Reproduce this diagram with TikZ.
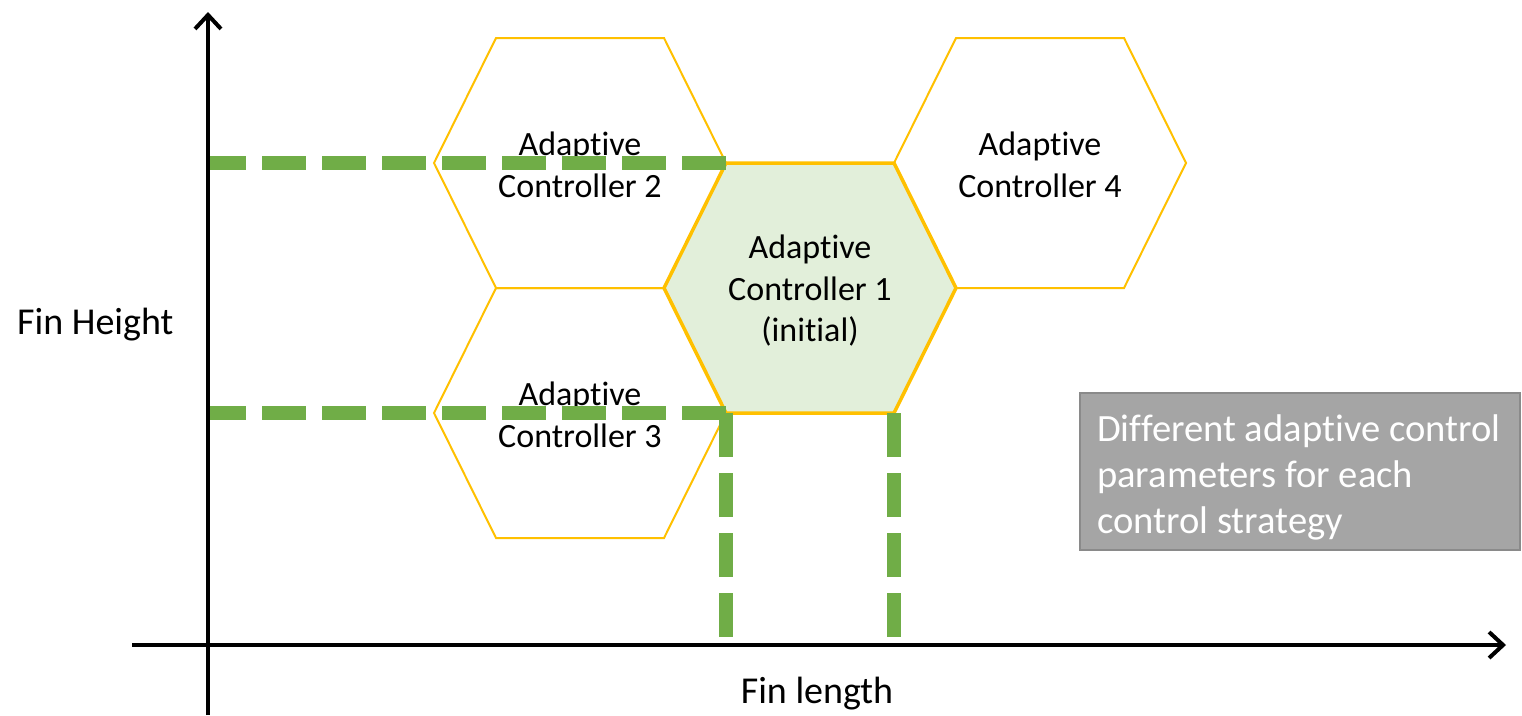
\documentclass[tikz,border=0pt]{standalone}
\usepackage{fontspec}
\setmainfont[Ligatures={NoCommon}]{Carlito}
\usetikzlibrary{arrows.meta}
\definecolor{hexline}{HTML}{FFC000}
\definecolor{guide}{HTML}{70AD47}
\definecolor{activefill}{HTML}{E2EFDA}
\definecolor{notefill}{HTML}{A5A5A5}
\definecolor{noteline}{HTML}{8A8A8A}

% hexagon around a centre: half width 146, half top edge 84, half height 125
\newcommand\hexcellpath[2]{(#1-146,#2) -- (#1-84,#2-125) -- (#1+84,#2-125) -- (#1+146,#2) -- (#1+84,#2+125) -- (#1-84,#2+125) -- cycle}

\begin{document}
\begin{tikzpicture}[x=1pt,y=-1pt,
  hexcell/.style={draw=hexline, line width=2pt, line join=miter},
  activecell/.style={draw=hexline, fill=activefill, line width=3.5pt, line join=miter},
  hexlabel/.style={align=center, font=\fontsize{34}{41.5}\selectfont, inner sep=0pt},
  guideline/.style={draw=guide, line width=14pt, dash pattern=on 44pt off 16pt},
  axisline/.style={draw=black, line width=4pt, -{Straight Barb[length=14pt,width=26pt]}},
  axislabel/.style={font=\fontsize{38}{46}\selectfont, inner sep=0pt},
  notebox/.style={fill=notefill, draw=noteline, line width=2.5pt},
  notetext/.style={align=left, text=white, font=\fontsize{38.6}{46}\selectfont, inner sep=0pt}]

\useasboundingbox (0,0) rectangle (1522,715);

% controller cells
\draw[activecell] \hexcellpath{810}{288};
\draw[hexcell] \hexcellpath{580}{163};
\draw[hexcell] \hexcellpath{580}{413};
\draw[hexcell] \hexcellpath{1040}{163};

\node[hexlabel] (c1) at (810,291) {Adaptive\\Controller 1\\(initial)};
\node[hexlabel] (c2) at (580,165) {Adaptive\\Controller 2};
\node[hexlabel] (c3) at (580,415) {Adaptive\\Controller 3};
\node[hexlabel] (c4) at (1040,165) {Adaptive\\Controller 4};

% corners of the initial cell and their projections on the axes
\coordinate (tl) at (726,163);
\coordinate (bl) at (726,413);
\coordinate (br) at (894,413);
\coordinate (yup) at (206,163);
\coordinate (ylo) at (210,413);
\coordinate (xl) at (726,637);
\coordinate (xr) at (894,637);

\draw[guideline, dash phase=4pt] (yup) -- (tl);
\draw[guideline, dash phase=8pt] (ylo) -- (bl);
\draw[guideline] (bl) -- (xl);
\draw[guideline] (br) -- (xr);

% axes
\coordinate (ybot) at (208,715);
\coordinate (ytop) at (208,12);
\coordinate (xleft) at (132,645);
\coordinate (xright) at (1506,645);
\draw[axisline] (ybot) -- (ytop);
\draw[axisline] (xleft) -- (xright);

\node[axislabel, anchor=base west] (fh) at (17,334) {Fin Height};
\node[axislabel, anchor=base] (fl) at (817,703) {Fin length};

% note box
\draw[notebox] (1080,393) rectangle (1520,550);
\node[notetext, anchor=north west] (note) at (1097,414) {Different adaptive control\\parameters for each\\control strategy};
\end{tikzpicture}
\end{document}
